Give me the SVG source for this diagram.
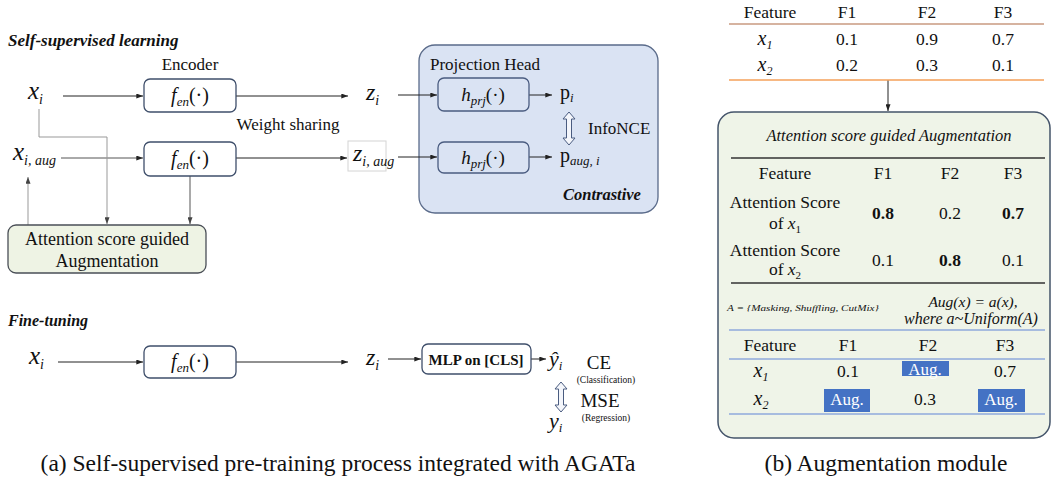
<svg xmlns="http://www.w3.org/2000/svg" width="1054" height="479" viewBox="0 0 1054 479" font-family="'Liberation Serif','DejaVu Serif',serif">
<style>
text{font-family:'Liberation Serif','DejaVu Serif',serif;fill:#111}
.m{font-style:italic}
.bi{font-weight:bold;font-style:italic}
.enc{fill:#fff;stroke:#3f4f6b;stroke-width:1.3}
.prj{fill:#dae3f3;stroke:#4a5c80;stroke-width:1.3}
.ln{fill:none;stroke:#222;stroke-width:1}
.lg{fill:none;stroke:#999;stroke-width:1}
.dg{fill:none;stroke:#555;stroke-width:1}
.c{text-anchor:middle}
.dbl{fill:#f4f6fb;stroke:#4a5c80;stroke-width:1}
.aug{fill:#4472c4}
.augt{fill:#fff;text-anchor:middle;font-size:17px}
</style>
<defs>
<marker id="a" viewBox="0 0 8 6" refX="8" refY="3" markerWidth="7" markerHeight="5" markerUnits="userSpaceOnUse" orient="auto"><path d="M0,0L8,3L0,6z" fill="#222"/></marker>
<marker id="ag" viewBox="0 0 8 6" refX="8" refY="3" markerWidth="7" markerHeight="5" markerUnits="userSpaceOnUse" orient="auto"><path d="M0,0L8,3L0,6z" fill="#444"/></marker>
</defs>

<!-- Titles -->
<text x="8" y="46" class="bi" font-size="17">Self-supervised learning</text>
<text x="8" y="326" class="bi" font-size="16">Fine-tuning</text>

<!-- Projection head container -->
<g id="projection-head">
<rect x="419" y="45" width="239" height="168" rx="16" fill="#dae3f3" stroke="#5a6b8a" stroke-width="1.3"/>
<text x="430" y="70" font-size="17">Projection Head</text>
<text x="563" y="200" class="bi" font-size="16.5">Contrastive</text>
</g>

<!-- Connectors -->
<g id="connectors">
<line x1="63" y1="96" x2="143" y2="96" class="ln" marker-end="url(#a)"/>
<line x1="236" y1="96" x2="348" y2="96" class="ln" marker-end="url(#a)"/>
<line x1="61" y1="158" x2="143" y2="158" class="dg" marker-end="url(#a)"/>
<line x1="236" y1="158" x2="347" y2="158" class="ln" marker-end="url(#a)"/>
<line x1="398" y1="95" x2="437" y2="95" class="ln" marker-end="url(#a)"/>
<line x1="398" y1="157" x2="437" y2="157" class="ln" marker-end="url(#a)"/>
<line x1="529" y1="95" x2="552" y2="95" class="ln" marker-end="url(#a)"/>
<line x1="529" y1="157" x2="552" y2="157" class="ln" marker-end="url(#a)"/>
<polyline points="39,109 39,137 107,137 107,224" class="lg" marker-end="url(#ag)"/>
<line x1="190" y1="176" x2="190" y2="224" class="dg" marker-end="url(#ag)"/>
<line x1="28" y1="225" x2="28" y2="177" class="lg" marker-end="url(#ag)"/>
<line x1="58" y1="362" x2="143" y2="362" class="ln" marker-end="url(#a)"/>
<line x1="236" y1="362" x2="348" y2="362" class="ln" marker-end="url(#a)"/>
<line x1="388" y1="359" x2="421" y2="359" class="ln" marker-end="url(#a)"/>
<line x1="531" y1="359" x2="546" y2="359" class="ln" marker-end="url(#a)"/>
<line x1="888" y1="80" x2="888" y2="111" class="ln" marker-end="url(#a)"/>
<line x1="888" y1="293" x2="888" y2="323" class="ln" marker-end="url(#a)"/>
<polygon class="dbl" points="569,112 575,119 571.5,119 571.5,138 575,138 569,145 563,138 566.5,138 566.5,119 563,119"/>
<polygon class="dbl" points="561,382 567,389 563.5,389 563.5,405 567,405 561,412 555,405 558.5,405 558.5,389 555,389"/>
</g>

<!-- Self-supervised nodes -->
<g id="x-i"><text x="28" y="99" class="m" font-size="25">x<tspan font-size="14" dy="5">i</tspan></text></g>
<g id="encoder-1">
<text x="190" y="70" class="c" font-size="17">Encoder</text>
<rect x="144" y="79" width="92" height="33" rx="6" class="enc"/>
<text x="190" y="102" class="c" font-size="20"><tspan class="m">f</tspan><tspan class="m" font-size="13" dy="4">en</tspan><tspan dy="-4">(·)</tspan></text>
</g>
<g id="z-i"><text x="366" y="100" class="m" font-size="24">z<tspan font-size="14" dy="5">i</tspan></text></g>
<text x="288" y="130" class="c" font-size="17">Weight sharing</text>
<g id="x-i-aug"><text x="13" y="160" class="m" font-size="25">x<tspan font-size="14" dy="5">i, aug</tspan></text></g>
<g id="encoder-2">
<rect x="144" y="142" width="92" height="34" rx="6" class="enc"/>
<text x="190" y="165" class="c" font-size="20"><tspan class="m">f</tspan><tspan class="m" font-size="13" dy="4">en</tspan><tspan dy="-4">(·)</tspan></text>
</g>
<g id="z-i-aug">
<rect x="348" y="141" width="38" height="30" fill="none" stroke="#d4d4d4" stroke-width="1"/>
<text x="353" y="161" class="m" font-size="24">z<tspan font-size="14" dy="5">i, aug</tspan></text>
</g>
<g id="proj-1">
<rect x="438" y="78" width="91" height="33" rx="6" class="prj"/>
<text x="483" y="101" class="c" font-size="19"><tspan class="m">h</tspan><tspan class="m" font-size="13" dy="4">prj</tspan><tspan dy="-4">(·)</tspan></text>
</g>
<g id="proj-2">
<rect x="438" y="142" width="91" height="31" rx="6" class="prj"/>
<text x="483" y="164" class="c" font-size="19"><tspan class="m">h</tspan><tspan class="m" font-size="13" dy="4">prj</tspan><tspan dy="-4">(·)</tspan></text>
</g>
<g id="p-i"><text x="560" y="99" font-size="20">p<tspan class="m" font-size="13" dy="3">i</tspan></text></g>
<g id="infonce"><text x="588" y="134" font-size="17">InfoNCE</text></g>
<g id="p-aug-i"><text x="560" y="162" font-size="20">p<tspan class="m" font-size="13" dy="3">aug, i</tspan></text></g>
<g id="aug-box">
<rect x="8" y="225" width="198" height="48" rx="8" fill="#eef3e4" stroke="#4a4f57" stroke-width="1.3"/>
<text x="107" y="245" class="c" font-size="18">Attention score guided</text>
<text x="107" y="267" class="c" font-size="18">Augmentation</text>
</g>

<!-- Fine-tuning nodes -->
<g id="ft-x-i"><text x="29" y="364" class="m" font-size="25">x<tspan font-size="14" dy="5">i</tspan></text></g>
<g id="ft-encoder">
<rect x="144" y="346" width="92" height="32" rx="6" class="enc"/>
<text x="190" y="368" class="c" font-size="20"><tspan class="m">f</tspan><tspan class="m" font-size="13" dy="4">en</tspan><tspan dy="-4">(·)</tspan></text>
</g>
<g id="ft-z-i"><text x="366" y="365" class="m" font-size="24">z<tspan font-size="14" dy="5">i</tspan></text></g>
<g id="mlp">
<rect x="422" y="344" width="109" height="30" rx="6" class="enc"/>
<text x="476" y="365" class="c" font-size="15" font-weight="bold">MLP on [CLS]</text>
</g>
<g id="y-hat"><text x="549" y="366" class="m" font-size="22">ŷ<tspan font-size="13" dy="4">i</tspan></text></g>
<g id="loss">
<text x="599" y="369" class="c" font-size="19">CE</text>
<text x="606" y="383" class="c" font-size="9.5">(Classification)</text>
<text x="600" y="407" class="c" font-size="19">MSE</text>
<text x="606" y="421" class="c" font-size="9.5">(Regression)</text>
</g>
<g id="y-i"><text x="549" y="428" class="m" font-size="22">y<tspan font-size="13" dy="4">i</tspan></text></g>

<text x="338" y="471" class="c" font-size="23.5">(a) Self-supervised pre-training process integrated with AGATa</text>

<!-- Right panel: input table -->
<g id="input-table" font-size="17.5">
<text x="770" y="18" class="c">Feature</text>
<text x="847" y="18" class="c">F1</text>
<text x="927" y="18" class="c">F2</text>
<text x="1003" y="18" class="c">F3</text>
<line x1="729" y1="24" x2="1044" y2="24" stroke="#c89a80" stroke-width="1.5"/>
<text x="765" y="45" class="c m" font-size="20">x<tspan font-size="12" dy="4">1</tspan></text>
<text x="847" y="45" class="c">0.1</text>
<text x="927" y="45" class="c">0.9</text>
<text x="1003" y="45" class="c">0.7</text>
<text x="765" y="71" class="c m" font-size="20">x<tspan font-size="12" dy="4">2</tspan></text>
<text x="847" y="71" class="c">0.2</text>
<text x="927" y="71" class="c">0.3</text>
<text x="1003" y="71" class="c">0.1</text>
<line x1="729" y1="80" x2="1044" y2="80" stroke="#f4a15a" stroke-width="1.5"/>
</g>

<!-- Right panel: augmentation module -->
<g id="aug-module">
<rect x="718" y="112" width="332" height="326" rx="16" fill="#eff4e8" stroke="#44546a" stroke-width="1.5"/>
<text x="889" y="141" class="c m" font-size="16.5">Attention score guided Augmentation</text>
<line x1="731" y1="158" x2="1045" y2="158" stroke="#333" stroke-width="1.3"/>
<g font-size="17.5">
<text x="785" y="179" class="c">Feature</text>
<text x="883" y="179" class="c">F1</text>
<text x="950" y="179" class="c">F2</text>
<text x="1013" y="179" class="c">F3</text>
<text x="785" y="208" class="c">Attention Score</text>
<text x="785" y="229" class="c">of <tspan class="m">x</tspan><tspan font-size="11" dy="4">1</tspan></text>
<text x="883" y="219" class="c" font-weight="bold">0.8</text>
<text x="950" y="219" class="c">0.2</text>
<text x="1013" y="219" class="c" font-weight="bold">0.7</text>
<text x="785" y="256" class="c">Attention Score</text>
<text x="785" y="275" class="c">of <tspan class="m">x</tspan><tspan font-size="11" dy="4">2</tspan></text>
<text x="883" y="266" class="c">0.1</text>
<text x="950" y="266" class="c" font-weight="bold">0.8</text>
<text x="1013" y="266" class="c">0.1</text>
</g>
<line x1="731" y1="283" x2="1045" y2="283" stroke="#333" stroke-width="1.3"/>
<text x="727" y="311" class="m" font-size="8.5" textLength="152" lengthAdjust="spacingAndGlyphs">A = {Masking, Shuffling, CutMix}</text>
<text x="973" y="307" class="c m" font-size="15.5">Aug(x) = a(x),</text>
<text x="971" y="324" class="c m" font-size="16">where a~Uniform(A)</text>
<line x1="729" y1="330" x2="1045" y2="330" stroke="#8faadc" stroke-width="1.5"/>
<g font-size="17.5">
<text x="770" y="351" class="c">Feature</text>
<text x="848" y="351" class="c">F1</text>
<text x="928" y="351" class="c">F2</text>
<text x="1005" y="351" class="c">F3</text>
</g>
<line x1="729" y1="359" x2="1045" y2="359" stroke="#8faadc" stroke-width="1.5"/>
<text x="761" y="377" class="c m" font-size="20">x<tspan font-size="12" dy="4">1</tspan></text>
<text x="848" y="377" class="c" font-size="17.5">0.1</text>
<rect x="902" y="361" width="47" height="15" class="aug"/>
<text x="925" y="375" class="augt">Aug.</text>
<text x="1005" y="377" class="c" font-size="17.5">0.7</text>
<text x="761" y="405" class="c m" font-size="20">x<tspan font-size="12" dy="4">2</tspan></text>
<rect x="824" y="389" width="46" height="23" class="aug"/>
<text x="847" y="405" class="augt">Aug.</text>
<text x="925" y="405" class="c" font-size="17.5">0.3</text>
<rect x="978" y="389" width="47" height="23" class="aug"/>
<text x="1001" y="405" class="augt">Aug.</text>
<line x1="729" y1="414" x2="1045" y2="414" stroke="#8faadc" stroke-width="1.5"/>
</g>

<text x="886" y="471" class="c" font-size="23.5">(b) Augmentation module</text>
</svg>
